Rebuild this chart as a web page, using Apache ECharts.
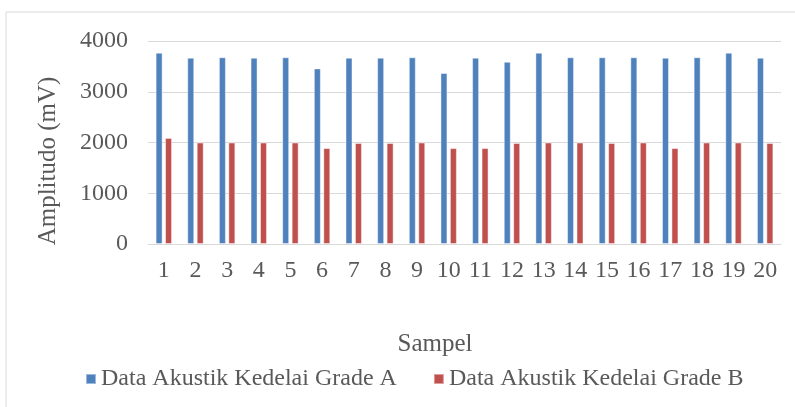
<!DOCTYPE html>
<html>
<head>
<meta charset="utf-8">
<script src="https://cdn.jsdelivr.net/npm/echarts@6/dist/echarts.min.js"></script>
<style>
html,body{margin:0;padding:0;background:#fff;}
#c{width:795px;height:407px;}
</style>
</head>
<body>
<div id="c"></div>
<script>
const categories = ['1','2','3','4','5','6','7','8','9','10','11','12','13','14','15','16','17','18','19','20'];
const gradeA = [3770,3670,3680,3670,3680,3460,3670,3670,3680,3370,3670,3590,3770,3680,3680,3680,3670,3680,3770,3670];
const gradeB = [2090,2000,2000,2000,2000,1890,1990,1990,2000,1890,1890,1990,2000,2000,1990,2000,1890,2000,2000,1990];
const seriesNames = ['Data Akustik Kedelai Grade A','Data Akustik Kedelai Grade B'];
const yTicks = {min:0, max:4000, interval:1000};

const FONT = "'Liberation Serif','Times New Roman',serif";
const TXT = '#595959';
const chart = echarts.init(document.getElementById('c'));
chart.setOption({
  animation:false,
  backgroundColor:'#fff',
  grid:{left:148,right:14,top:41,bottom:163,containLabel:false},
  legend:{
    left:80, top:362, itemWidth:10, itemHeight:10, itemGap:36,
    icon:'rect',
    textStyle:{fontFamily:FONT,fontSize:24,color:TXT,padding:[0,0,0,0]},
    data:seriesNames
  },
  graphic:[
    {type:'rect',shape:{x:6,y:12,width:900,height:500},style:{fill:'none',stroke:'#D9D9D9',lineWidth:1},silent:true},
    {type:'text',x:435,y:344,style:{text:'Sampel',font:'25px '+FONT,fill:TXT,textAlign:'center',textVerticalAlign:'middle'}},
    {type:'text',x:48,y:161,rotation:Math.PI/2,style:{text:'Amplitudo (mV)',font:'25px '+FONT,fill:TXT,textAlign:'center',textVerticalAlign:'middle'}}
  ],
  xAxis:{
    type:'category', data:categories,
    axisLine:{lineStyle:{color:'#D9D9D9',width:1}},
    axisTick:{show:false},
    axisLabel:{fontFamily:FONT,fontSize:24,color:TXT,margin:15,interval:0}
  },
  yAxis:{
    type:'value', min:yTicks.min, max:yTicks.max, interval:yTicks.interval,
    axisLine:{show:false}, axisTick:{show:false},
    splitLine:{lineStyle:{color:'#D9D9D9',width:1}},
    axisLabel:{fontFamily:FONT,fontSize:24,color:TXT,margin:20,formatter:function(v){return String(v);}}
  },
  series:[
    {name:seriesNames[0],type:'bar',data:gradeA,barWidth:7,barGap:'35%',
     itemStyle:{color:'#4F81BD',borderColor:'rgba(255,255,255,0.45)',borderWidth:1}},
    {name:seriesNames[1],type:'bar',data:gradeB,barWidth:7,barGap:'35%',
     itemStyle:{color:'#C0504D',borderColor:'rgba(255,255,255,0.45)',borderWidth:1}}
  ]
});
</script>
</body>
</html>
